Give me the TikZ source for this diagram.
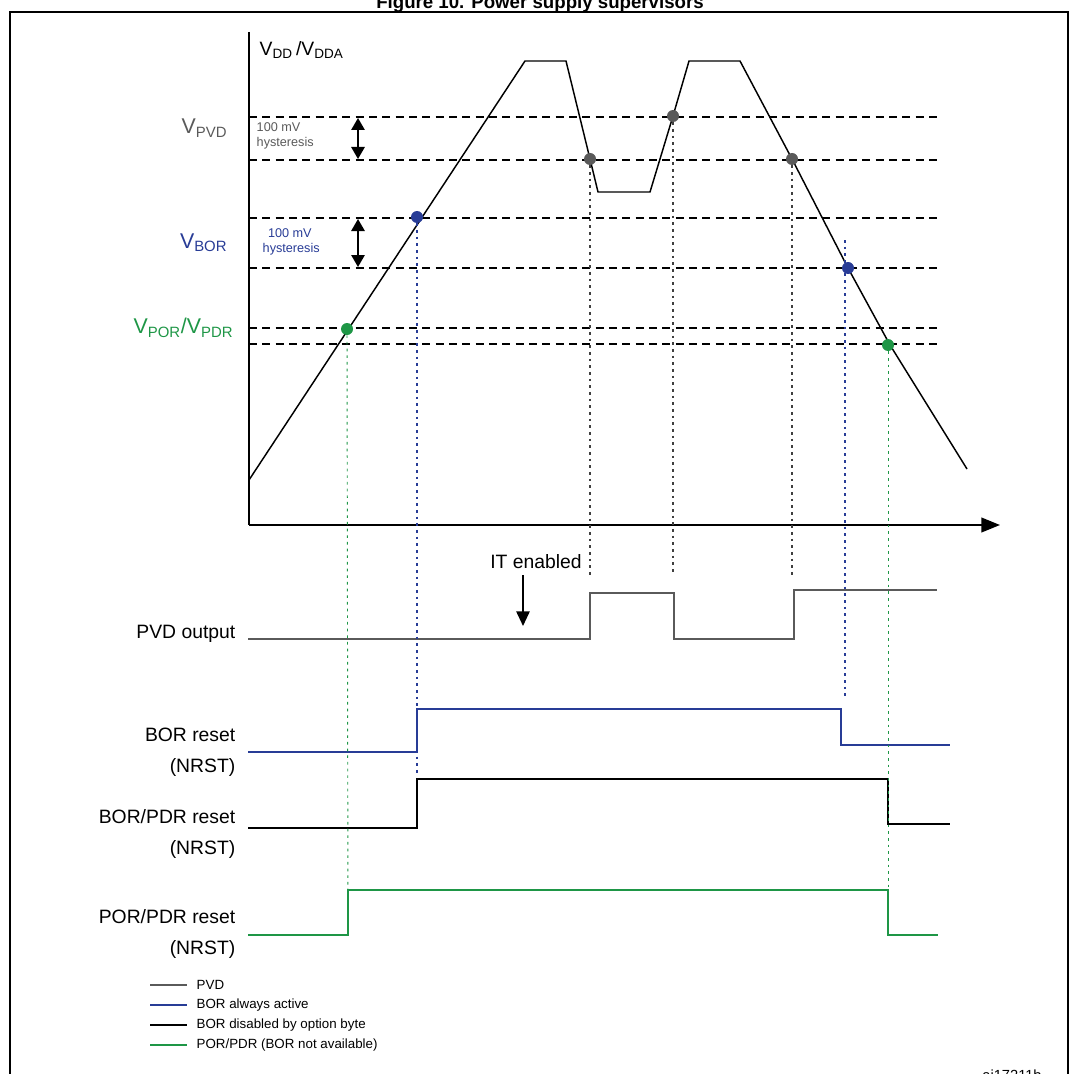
\documentclass[tikz,border=0pt]{standalone}
\usepackage{fontspec}
\setmainfont{Liberation Sans}
\usetikzlibrary{arrows.meta}
\definecolor{pvdgray}{RGB}{90,90,90}
\definecolor{borblue}{RGB}{40,60,150}
\definecolor{porgreen}{RGB}{30,150,70}
\tikzset{level/.style={dash pattern=on 6pt off 4pt,line width=0.9pt}}
\tikzset{drop/.style={dash pattern=on 2pt off 3pt,line width=1.1pt}}
\tikzset{dot/.style={circle,inner sep=0pt,minimum size=9pt}}
\tikzset{siglabel/.style={anchor=east,align=right,font=\fontsize{14.5}{23}\selectfont}}
\tikzset{vlabel/.style={anchor=east,font=\fontsize{16}{18}\selectfont}}
\tikzset{hyst/.style={anchor=west,align=left,font=\fontsize{9.5}{11}\selectfont}}
\tikzset{legend/.style={anchor=west,font=\fontsize{10}{12}\selectfont}}
\tikzset{hystarrow/.style={line width=1.4pt,{Triangle[length=9pt,width=10pt]}-{Triangle[length=9pt,width=10pt]}}}
\begin{document}
\begin{tikzpicture}[x=0.75pt,y=-0.75pt]
    \useasboundingbox (0,0) rectangle (1080,1073);

    % title and frame
    \node[anchor=base,font=\bfseries\fontsize{14}{16}\selectfont] (title) at (540,9) {Figure 10. Power supply supervisors};
    \draw[line width=1.5pt] (10,12) rectangle (1068,1100);

    % axes
    \coordinate (top) at (249,32);
    \coordinate (org) at (249,525);
    \coordinate (xend) at (1000,525);
    \draw[line width=1.5pt] (top) -- (org);
    \draw[line width=1.5pt,-{Triangle[length=14pt,width=11pt]}] (org) -- (xend);
    \node[anchor=west,font=\fontsize{14.5}{16}\selectfont] (vdd) at (255,50) {V\textsubscript{DD}\,/V\textsubscript{DDA}};

    % threshold levels
    \foreach \y [count=\yi] in {117,160,218,268,328,344}{
        \coordinate (l\yi) at (249,\y);
        \coordinate (r\yi) at (940,\y);
        \draw[level] (l\yi) -- (r\yi);
    }

    % supply curve
    \draw[line width=1.1pt] (249,480) -- (525,61) -- (566,61) -- (590,159)
        -- (598,192) -- (650,192) -- (673,116) -- (689,61) -- (740,61)
        -- (792,159) -- (848,268) -- (890,345) -- (967,469);

    % crossing points
    \foreach \x/\y/\c [count=\ci] in {590/159/pvdgray,673/116/pvdgray,792/159/pvdgray,
                                     417/217/borblue,848/268/borblue,
                                     347/329/porgreen,888/345/porgreen}{
        \node[dot,fill=\c] (p\ci) at (\x,\y) {};
    }

    % level labels
    \node[vlabel,text=pvdgray] (vpvd) at (232,128) {V\textsubscript{PVD}};
    \node[vlabel,text=borblue] (vbor) at (232,243) {V\textsubscript{BOR}};
    \node[vlabel,text=porgreen] (vpor) at (238,328) {V\textsubscript{POR}/V\textsubscript{PDR}};
    \node[hyst,text=pvdgray] (hpvd) at (252,136) {100 mV\\hysteresis};
    \node[hyst,text=borblue] (hbor) at (258,242) {\hspace*{4pt}100 mV\\hysteresis};
    \draw[hystarrow] (358,118) -- (358,159);
    \draw[hystarrow] (358,219) -- (358,267);

    % signal traces
    \coordinate (pvdend) at (937,590);
    \draw[pvdgray,line width=1.1pt] (248,639) -- (590,639) -- (590,593) -- (674,593)
        -- (674,639) -- (794,639) -- (794,590) -- (pvdend);
    \draw[borblue,line width=1.1pt] (248,752) -- (417,752) -- (417,709) -- (841,709)
        -- (841,745) -- (950,745);
    \draw[black,line width=1.1pt] (248,828) -- (417,828) -- (417,779) -- (888,779)
        -- (888,824) -- (950,824);
    \draw[porgreen,line width=1.1pt] (248,935) -- (348,935) -- (348,890) -- (888,890)
        -- (888,935) -- (938,935);

    % drop lines
    \foreach \n/\y in {p1/575,p2/575,p3/575}{
        \draw[drop,pvdgray!70!black] (\n) -- (\n |- 0,\y);
    }
    \draw[drop,borblue] (p4) -- (417,774);
    \draw[drop,borblue] (845,240) -- (845,697);
    \draw[drop,porgreen,line width=0.7pt] (p6) -- (348,935);
    \draw[drop,porgreen,line width=0.7pt] (p7) -- (888,935);

    % signal labels
    \node[siglabel] (pvdout) at (240,634) {PVD output};
    \node[siglabel] (borrst) at (240,752) {BOR reset\\(NRST)};
    \node[siglabel] (bpdrst) at (240,834) {BOR/PDR reset\\(NRST)};
    \node[siglabel] (pprst) at (240,934) {POR/PDR reset\\(NRST)};

    % interrupt enable
    \node[font=\fontsize{14.5}{16}\selectfont] (iten) at (536,562) {IT enabled};
    \coordinate (itend) at (523,626);
    \draw[line width=1.3pt,-{Triangle[length=11pt,width=10pt]}] (523,575) -- (itend);

    % legend
    \foreach \t/\c [count=\li] in {PVD/pvdgray,BOR always active/borblue,
                                  BOR disabled by option byte/black,
                                  {POR/PDR (BOR not available)}/porgreen}{
        \coordinate (k\li) at (150,965+20*\li);
        \draw[\c,line width=2.2pt] (k\li) -- ++(37,0);
        \node[legend] (lg\li) at (192,965+20*\li) {\t};
    }
    \node[anchor=base,font=\fontsize{11}{13}\selectfont] (ref) at (1012,1080) {ai17211b};
\end{tikzpicture}
\end{document}
